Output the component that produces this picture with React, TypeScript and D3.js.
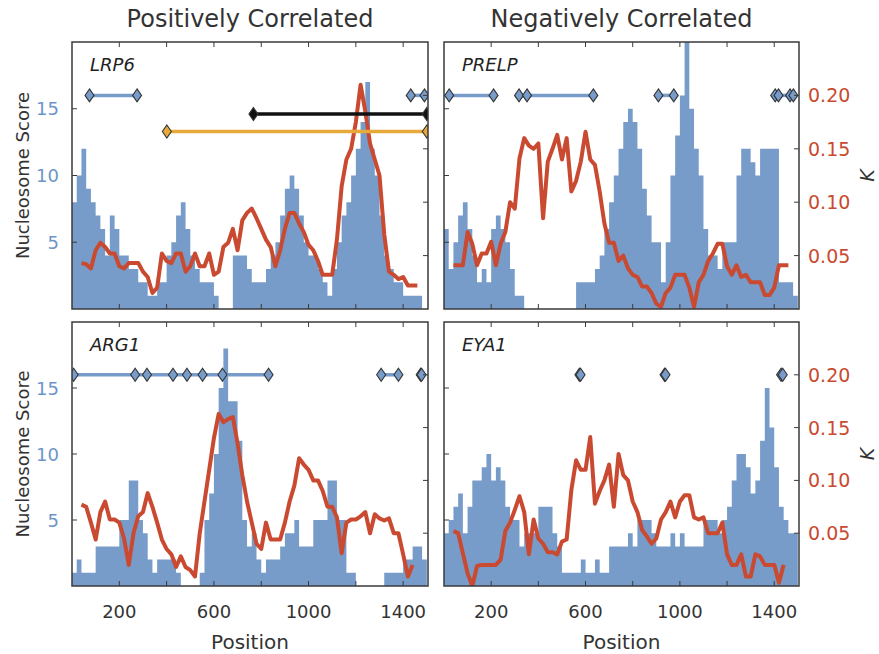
import * as d3 from "d3";

// ---- data ----
const POS_MAX = 1505;
const BIN = 20; // histogram bin / K sample spacing (bp)
const X_TICKS = [200, 400, 600, 800, 1000, 1200, 1400];
const X_TICK_LABELS = [200, 600, 1000, 1400];
const SCORE_TICKS = [5, 10, 15];
const K_TICKS = [0.05, 0.1, 0.15, 0.2];
const COL_TITLES = ["Positively Correlated", "Negatively Correlated"];

const lrp6Score = [8, 10, 12, 9, 8, 7, 6, 4, 7, 6, 4, 4, 3, 3, 2, 2, 1, 1, 2, 2, 4, 5, 7, 8, 6, 4, 3, 2, 2, 2, 1, 0, 0, 0, 4, 4, 4, 3, 2, 2, 2, 3, 4, 5, 7, 9, 10, 9, 7, 5, 4, 4, 3, 2, 1, 3, 5, 7, 8, 10, 12, 14, 17, 12, 10, 7, 4, 3, 2, 2, 1, 1, 1, 1, 0];
const lrp6K = [0.043, 0.042, 0.038, 0.055, 0.062, 0.058, 0.052, 0.052, 0.04, 0.038, 0.043, 0.043, 0.043, 0.035, 0.03, 0.015, 0.02, 0.052, 0.045, 0.043, 0.052, 0.052, 0.035, 0.04, 0.052, 0.04, 0.04, 0.052, 0.032, 0.035, 0.058, 0.062, 0.075, 0.055, 0.083, 0.09, 0.094, 0.085, 0.075, 0.065, 0.058, 0.04, 0.055, 0.075, 0.09, 0.09, 0.08, 0.072, 0.06, 0.055, 0.045, 0.032, 0.032, 0.032, 0.065, 0.115, 0.14, 0.15, 0.175, 0.21, 0.185, 0.155, 0.14, 0.125, 0.07, 0.035, 0.032, 0.028, 0.03, 0.022, 0.022, 0.022];

const prelpScore = [6, 3, 5, 7, 8, 6, 4, 2, 3, 2, 6, 7, 6, 5, 3, 1, 1, 0, 0, 0, 0, 0, 0, 0, 0, 0, 0, 0, 2, 2, 2, 2, 3, 4, 6, 8, 10, 12, 14, 15, 14, 12, 9, 7, 5, 5, 2, 5, 10, 13, 16, 22, 15, 12, 10, 6, 4, 4, 3, 5, 5, 5, 10, 12, 12, 11, 10, 12, 12, 12, 12, 2, 2, 2, 1];
const prelpK = [0.041, 0.041, 0.041, 0.072, 0.061, 0.041, 0.052, 0.052, 0.063, 0.041, 0.061, 0.072, 0.1, 0.094, 0.141, 0.16, 0.153, 0.15, 0.155, 0.085, 0.138, 0.15, 0.163, 0.14, 0.16, 0.11, 0.12, 0.138, 0.166, 0.14, 0.135, 0.11, 0.08, 0.062, 0.062, 0.045, 0.05, 0.038, 0.032, 0.03, 0.021, 0.021, 0.015, 0.005, 0.002, 0.015, 0.02, 0.032, 0.032, 0.032, 0.02, 0.002, 0.025, 0.032, 0.045, 0.052, 0.061, 0.061, 0.04, 0.032, 0.041, 0.03, 0.032, 0.025, 0.025, 0.025, 0.013, 0.013, 0.02, 0.041, 0.041, 0.041];

const arg1Score = [1, 2, 1, 1, 1, 3, 3, 3, 3, 3, 5, 5, 8, 8, 5, 4, 2, 1, 2, 2, 2, 2, 1, 0, 0, 0, 0, 1, 5, 7, 10, 15, 18, 14, 14, 11, 5, 3, 4, 2, 1, 2, 2, 2, 3, 4, 4, 5, 3, 3, 3, 5, 5, 5, 8, 8, 5, 5, 1, 1, 0, 0, 0, 0, 0, 0, 1, 1, 1, 1, 2, 2, 3, 3, 2];
const arg1K = [0.077, 0.075, 0.06, 0.044, 0.07, 0.08, 0.063, 0.063, 0.06, 0.045, 0.02, 0.05, 0.066, 0.07, 0.088, 0.075, 0.06, 0.044, 0.035, 0.03, 0.018, 0.028, 0.018, 0.015, 0.009, 0.05, 0.08, 0.11, 0.14, 0.163, 0.155, 0.158, 0.16, 0.135, 0.105, 0.08, 0.06, 0.04, 0.035, 0.06, 0.044, 0.044, 0.044, 0.06, 0.08, 0.095, 0.121, 0.115, 0.11, 0.1, 0.1, 0.09, 0.075, 0.075, 0.065, 0.031, 0.06, 0.063, 0.063, 0.066, 0.07, 0.05, 0.068, 0.064, 0.062, 0.064, 0.05, 0.05, 0.03, 0.009, 0.02];

const eya1Score = [4, 5, 6, 7, 4, 6, 8, 8, 9, 10, 8, 9, 8, 6, 5, 5, 3, 4, 4, 4, 6, 6, 6, 4, 3, 1, 1, 1, 1, 2, 1, 1, 2, 1, 1, 3, 3, 3, 3, 4, 3, 5, 5, 5, 4, 3, 3, 3, 4, 3, 4, 3, 3, 3, 3, 5, 5, 5, 4, 5, 6, 8, 10, 10, 9, 7, 8, 11, 15, 12, 9, 6, 5, 4, 4];
const eya1K = [0.052, 0.05, 0.031, 0.012, 0.0, 0.019, 0.02, 0.02, 0.02, 0.02, 0.025, 0.052, 0.06, 0.072, 0.085, 0.07, 0.03, 0.063, 0.045, 0.04, 0.032, 0.032, 0.03, 0.042, 0.044, 0.091, 0.119, 0.11, 0.11, 0.141, 0.078, 0.09, 0.1, 0.115, 0.075, 0.125, 0.105, 0.1, 0.08, 0.07, 0.053, 0.047, 0.04, 0.045, 0.063, 0.07, 0.08, 0.065, 0.08, 0.086, 0.086, 0.065, 0.063, 0.065, 0.05, 0.05, 0.05, 0.06, 0.03, 0.02, 0.02, 0.03, 0.009, 0.009, 0.03, 0.028, 0.02, 0.02, 0.02, 0.003, 0.02];

// diamond groups: each inner list is joined by a line
const lrp6Sites = [[74, 275], [1432, 1490]];
const lrp6Black = [[767, 1500]];
const lrp6Orange = [[401, 1500]];
const prelpSites = [[22, 210], [318, 352, 633], [909, 974], [1404, 1418, 1467, 1481]];
const arg1Sites = [[7, 267, 317, 427, 486, 552, 636, 831], [1307, 1380], [1474, 1478]];
const eya1Sites = [[574, 579], [935, 939], [1429, 1436]];

const BLUE = "#779cc9";
const BLUE_TXT = "#6d95c9";
const RED = "#c94a30";
const ORANGE = "#e6a93a";
const FRAME = "#3a3a3a";
const FONT = "DejaVu Sans, sans-serif";

const COLS = [
  [72, 428],
  [444, 799],
];
const ROWS = [
  [42, 309],
  [322, 586],
];

type Track = { level: number; fill: string; line: string; groups: number[][] };
type PanelData = { name: string; score: number[]; k: number[]; kStart: number; tracks: Track[] };

const panels: PanelData[] = [
  {
    name: "LRP6", score: lrp6Score, k: lrp6K, kStart: 40,
    tracks: [
      { level: 16, fill: BLUE, line: BLUE, groups: lrp6Sites },
      { level: 14.6, fill: "#111", line: "#111", groups: lrp6Black },
      { level: 13.3, fill: ORANGE, line: ORANGE, groups: lrp6Orange },
    ],
  },
  {
    name: "PRELP", score: prelpScore, k: prelpK, kStart: 40,
    tracks: [{ level: 16, fill: BLUE, line: BLUE, groups: prelpSites }],
  },
  {
    name: "ARG1", score: arg1Score, k: arg1K, kStart: 40,
    tracks: [{ level: 16, fill: BLUE, line: BLUE, groups: arg1Sites }],
  },
  {
    name: "EYA1", score: eya1Score, k: eya1K, kStart: 40,
    tracks: [{ level: 16, fill: BLUE, line: BLUE, groups: eya1Sites }],
  },
];

const DIAMOND = "M0,-6.5L4.5,0L0,6.5L-4.5,0Z";

function Panel({ p, idx }: { p: PanelData; idx: number }) {
  const col = idx % 2;
  const row = Math.floor(idx / 2);
  const [x0, x1] = COLS[col];
  const [y0, y1] = ROWS[row];
  const x = d3.scaleLinear().domain([0, POS_MAX]).range([x0, x1]);
  const yS = d3.scaleLinear().domain([0, 20]).range([y1, y0]);
  const yK = d3.scaleLinear().domain([0, 0.25]).range([y1, y0]);

  const histPts: [number, number][] = p.score.map((v, i) => [i * BIN, v]);
  histPts.push([p.score.length * BIN, p.score[p.score.length - 1]]);
  const area = d3
    .area<[number, number]>()
    .curve(d3.curveStepAfter)
    .x((d) => x(d[0]))
    .y0(y1)
    .y1((d) => yS(d[1]));
  const kLine = d3
    .line<number>()
    .x((_, i) => x(p.kStart + i * BIN))
    .y((d) => yK(d));

  const clipId = `clip-${idx}`;
  const tick = 5;

  return (
    <g>
      <defs>
        <clipPath id={clipId}>
          <rect x={x0} y={y0} width={x1 - x0} height={y1 - y0} />
        </clipPath>
      </defs>
      <g clipPath={`url(#${clipId})`}>
        <path d={area(histPts) ?? ""} fill={BLUE} />
        <path d={kLine(p.k) ?? ""} fill="none" stroke={RED} strokeWidth={4} strokeLinejoin="round" />
        {p.tracks.map((t, ti) => (
          <g key={ti}>
            {t.groups.map((g, gi) => (
              <g key={gi}>
                {g.length > 1 && (
                  <line
                    x1={x(g[0])}
                    x2={x(g[g.length - 1])}
                    y1={yS(t.level)}
                    y2={yS(t.level)}
                    stroke={t.line}
                    strokeWidth={3.5}
                  />
                )}
                {g.map((v, vi) => (
                  <path
                    key={vi}
                    d={DIAMOND}
                    transform={`translate(${x(v)},${yS(t.level)})`}
                    fill={t.fill}
                    stroke="#333"
                    strokeWidth={1.1}
                  />
                ))}
              </g>
            ))}
          </g>
        ))}
      </g>

      {/* inward ticks on all four sides */}
      {X_TICKS.map((v) => (
        <g key={`xt${v}`} stroke={FRAME} strokeWidth={1}>
          <line x1={x(v)} x2={x(v)} y1={y0} y2={y0 + tick} />
          <line x1={x(v)} x2={x(v)} y1={y1} y2={y1 - tick} />
        </g>
      ))}
      {SCORE_TICKS.map((v) => (
        <line key={`ys${v}`} x1={x0} x2={x0 + tick} y1={yS(v)} y2={yS(v)} stroke={FRAME} strokeWidth={1} />
      ))}
      {K_TICKS.map((v) => (
        <line key={`yk${v}`} x1={x1} x2={x1 - tick} y1={yK(v)} y2={yK(v)} stroke={FRAME} strokeWidth={1} />
      ))}
      <rect x={x0} y={y0} width={x1 - x0} height={y1 - y0} fill="none" stroke={FRAME} strokeWidth={1.5} />

      <text x={x0 + 18} y={y0 + 29} fontFamily={FONT} fontStyle="italic" fontSize={18} fill="#222">
        {p.name}
      </text>

      {col === 0 &&
        SCORE_TICKS.map((v) => (
          <text
            key={`sl${v}`}
            x={x0 - 13}
            y={yS(v)}
            textAnchor="end"
            dominantBaseline="central"
            fontFamily={FONT}
            fontSize={18}
            fill={BLUE_TXT}
          >
            {v}
          </text>
        ))}
      {col === 1 &&
        K_TICKS.map((v) => (
          <text
            key={`kl${v}`}
            x={x1 + 9}
            y={yK(v)}
            dominantBaseline="central"
            fontFamily={FONT}
            fontSize={19}
            fill={RED}
          >
            {d3.format(".2f")(v)}
          </text>
        ))}
      {row === 1 &&
        X_TICK_LABELS.map((v) => (
          <text
            key={`xl${v}`}
            x={x(v)}
            y={y1 + 25}
            textAnchor="middle"
            dominantBaseline="central"
            fontFamily={FONT}
            fontSize={18}
            fill="#333"
          >
            {v}
          </text>
        ))}
      {row === 1 && (
        <text
          x={(x0 + x1) / 2}
          y={y1 + 56}
          textAnchor="middle"
          dominantBaseline="central"
          fontFamily={FONT}
          fontSize={20}
          fill="#333"
        >
          Position
        </text>
      )}
      {col === 0 && (
        <text
          transform={`translate(22,${(y0 + y1) / 2}) rotate(-90)`}
          textAnchor="middle"
          dominantBaseline="central"
          fontFamily={FONT}
          fontSize={18}
          fill="#333"
        >
          Nucleosome Score
        </text>
      )}
      {col === 1 && (
        <text
          transform={`translate(867,${(y0 + y1) / 2}) rotate(-90)`}
          textAnchor="middle"
          dominantBaseline="central"
          fontFamily={FONT}
          fontStyle="italic"
          fontSize={19}
          fill="#333"
        >
          K
        </text>
      )}
      {row === 0 && (
        <text
          x={(x0 + x1) / 2}
          y={27}
          textAnchor="middle"
          fontFamily={FONT}
          fontSize={24}
          fill="#333"
        >
          {COL_TITLES[col]}
        </text>
      )}
    </g>
  );
}

export default function App() {
  return (
    <div style={{ position: "absolute", left: 0, top: 0 }}>
      <svg width={879} height={654} style={{ display: "block", background: "#fff" }}>
        {panels.map((p, i) => (
          <Panel key={p.name} p={p} idx={i} />
        ))}
      </svg>
    </div>
  );
}
